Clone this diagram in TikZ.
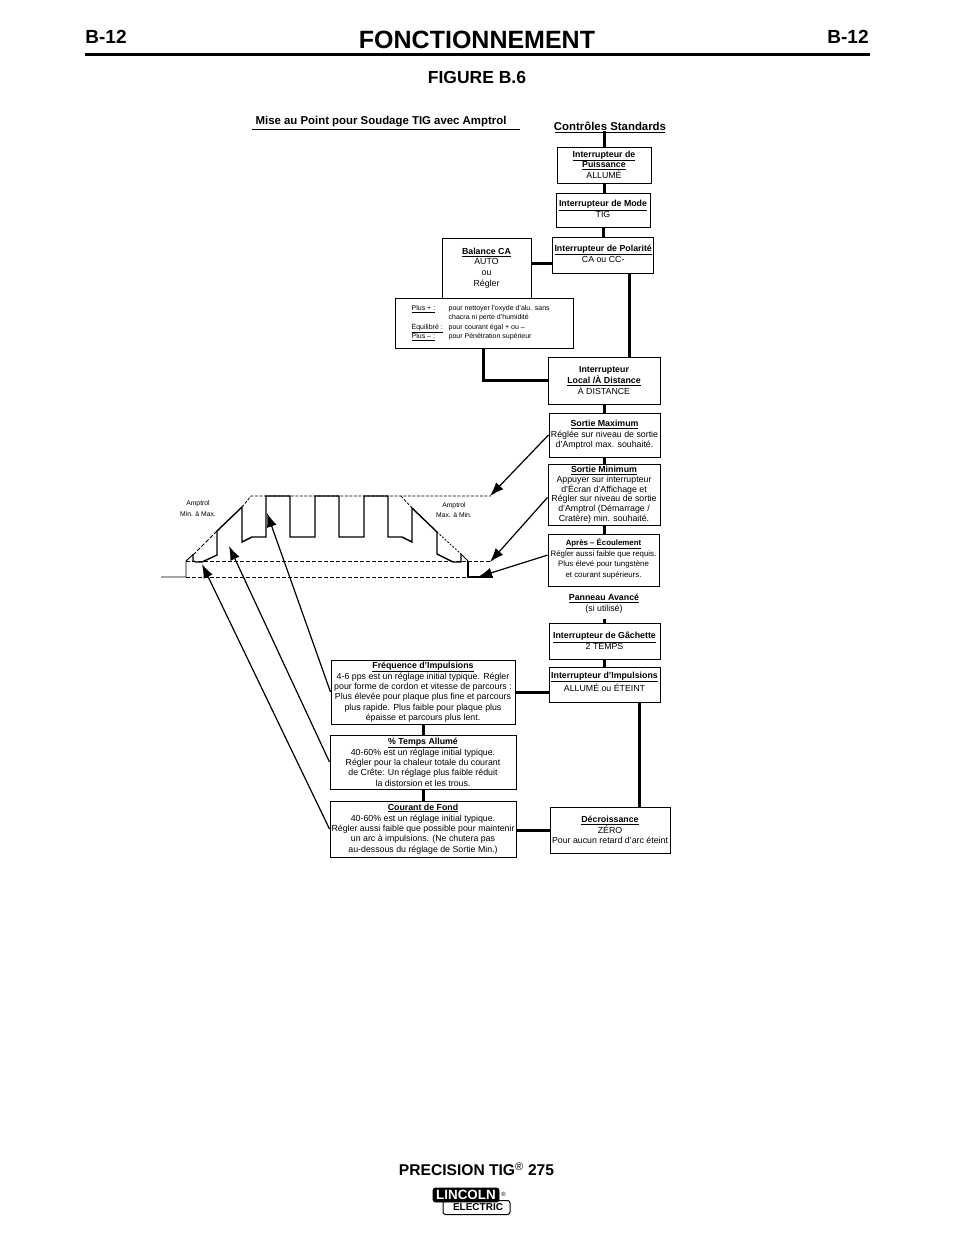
\documentclass[tikz,border=0pt]{standalone}
\usepackage{fontspec}
\setmainfont{Liberation Sans}
\usetikzlibrary{arrows.meta,positioning,calc}
\tikzset{every picture/.style={line width=0.75pt}}
\tikzset{
    boite/.style={draw, line width=1pt, align=center, inner sep=0pt, font=\fontsize{8.8}{10.4}\selectfont},
    lien/.style={line width=3pt},
    fleche/.style={line width=1.2pt, -{Latex[length=14pt,width=10pt]}},
    signal/.style={line width=1.4pt, line join=miter},
    fin/.style={line width=0.9pt},
    tirets/.style={line width=0.8pt, dash pattern=on 4pt off 2pt},
    titre/.style={font=\bfseries\fontsize{11.4}{13}\selectfont, inner sep=0pt},
    petit/.style={font=\fontsize{6.8}{10.6}\selectfont, align=center, inner sep=0pt}
}
\newcommand{\tete}[1]{\underline{\textbf{#1}}}

\begin{document}
\begin{tikzpicture}[x=1pt,y=-1pt]
    \useasboundingbox (0,0) rectangle (954,1235);

    % En-tete de page
    \node[font=\bfseries\fontsize{19}{22}\selectfont, inner sep=0pt] (pageg) at (106,37) {B-12};
    \node[font=\bfseries\fontsize{25}{30}\selectfont, inner sep=0pt] (fonct) at (477,40) {FONCTIONNEMENT};
    \node[font=\bfseries\fontsize{19}{22}\selectfont, inner sep=0pt] (paged) at (848,37) {B-12};
    \draw[line width=2.6pt] (85,54.5) -- (870,54.5);
    \node[font=\bfseries\fontsize{17.5}{20}\selectfont, inner sep=0pt] (figure) at (477,77) {FIGURE B.6};

    % Titres
    \node[titre] (miseau) at (381,122) {Mise au Point pour Soudage TIG avec Amptrol};
    \draw[line width=1pt] (252,129) -- (520,129);
    \node[titre] (controles) at (610,126.5) {Contrôles Standards};
    \draw[line width=1pt] (555,132) -- (665,132);

    % Colonne de droite
    \node[boite, minimum width=94pt, minimum height=36pt] (puissance) at (604,165)
        {\tete{Interrupteur de}\\\tete{Puissance}\\[0.6pt]ALLUMÉ};
    \node[boite, minimum width=94pt, minimum height=34pt] (mode) at (603,210)
        {\tete{Interrupteur de Mode}\\[0.6pt]TIG\\[-8.4pt]};
    \node[boite, minimum width=100.5pt, minimum height=36pt] (polarite) at (603.2,255)
        {\tete{Interrupteur de Polarité}\\[0.8pt]CA ou CC-\\[-7.4pt]};
    \node[boite, minimum width=89pt, minimum height=60pt] (balance) at (486.5,268)
        {\tete{Balance CA}\\[0.3pt]AUTO\\[0.3pt]ou\\[0.3pt]Régler};
    \node[boite, minimum width=178.5pt, minimum height=50pt, align=left,
          font=\fontsize{7}{9.4}\selectfont] (plus) at (484.7,323)
        {\makebox[37pt][l]{\underline{Plus + :}}pour nettoyer l’oxyde d’alu. sans\hspace*{8pt}\\
         \makebox[37pt][l]{}chacra ni perte d’humidité\\
         \makebox[37pt][l]{\underline{Équilibré :}}pour courant égal + ou –\\
         \makebox[37pt][l]{\underline{Plus – :}}pour Pénétration supérieur\\[-7.4pt]};
    \node[boite, minimum width=112pt, minimum height=47pt] (local) at (604,380.5)
        {\textbf{Interrupteur}\\\tete{Local /À Distance}\\[0.6pt]À DISTANCE};
    \node[boite, minimum width=111pt, minimum height=44pt] (sortiemax) at (604.5,435)
        {\tete{Sortie Maximum}\\[0.6pt]Réglée sur niveau de sortie\\d’Amptrol max. souhaité.};
    \node[boite, minimum width=112pt, minimum height=61pt, font=\fontsize{8.8}{9.7}\selectfont] (sortiemin) at (604,494.5)
        {\tete{Sortie Minimum}\\[0.6pt]Appuyer sur interrupteur\\d’Écran d’Affichage et\\Régler sur niveau de sortie\\d’Amptrol (Démarrage /\\Cratère) min. souhaité.};
    \node[boite, minimum width=111pt, minimum height=52pt, font=\fontsize{7.85}{10.6}\selectfont] (apres) at (603.5,560)
        {\tete{Après – Écoulement}\\Régler aussi faible que requis.\\Plus élevé pour tungstène\\et courant  supérieurs.\\[-6.6pt]};
    \node[boite, draw=none, minimum width=100pt, minimum height=29pt] (panneau) at (604,603.5)
        {\tete{Panneau Avancé}\\(si utilisé)};
    \node[boite, minimum width=111pt, minimum height=36pt] (gachette) at (604.5,641)
        {\tete{Interrupteur de Gâchette}\\[0.8pt]2 TEMPS};
    \node[boite, minimum width=111pt, minimum height=35pt] (impulsions) at (604.5,684.5)
        {\tete{Interrupteur d’Impulsions}\\[0.8pt]ALLUMÉ ou ÉTEINT\\[-4.4pt]};
    \node[boite, minimum width=120pt, minimum height=46pt] (decroissance) at (610,830)
        {\tete{Décroissance}\\[0.6pt]ZÉRO\\Pour aucun retard d’arc éteint};

    % Colonne de gauche
    \node[boite, minimum width=184pt, minimum height=64pt] (frequence) at (423,692)
        {\tete{Fréquence d’Impulsions}\\[0.6pt]4-6 pps est un réglage initial typique. Régler\\pour forme de cordon et vitesse de parcours :\\Plus élevée pour plaque plus fine et parcours\\plus rapide. Plus faible pour plaque plus\\épaisse et parcours plus lent.};
    \node[boite, minimum width=186pt, minimum height=54pt] (temps) at (423,762)
        {\tete{\% Temps Allumé}\\[0.6pt]40-60\% est un réglage initial typique.\\Régler pour la chaleur totale du courant\\de Crête: Un réglage plus faible réduit\\la distorsion et les trous.};
    \node[boite, minimum width=186pt, minimum height=56pt] (courant) at (423,829)
        {\tete{Courant de Fond}\\[0.6pt]40-60\% est un réglage initial typique.\\Régler aussi faible que possible pour maintenir\\un arc à impulsions. (Ne chutera pas\\au-dessous du réglage de Sortie Min.)};

    % Liens entre les boites
    \draw[lien] (puissance.north) -- (puissance.north |- controles.south);
    \draw[lien] (puissance.south) -- (puissance.south |- mode.north);
    \draw[lien] (mode.south) -- (mode.south |- polarite.north);
    \draw[lien] ([yshift=-8pt]polarite.west) -- ([yshift=-8pt]polarite.west -| balance.east);
    \draw[lien] ([xshift=26pt]polarite.south) -- ([xshift=26pt]polarite.south |- local.north);
    \draw[lien] ([xshift=-1.5pt]plus.south) |- (local.west);
    \draw[lien] (local.south) -- (local.south |- sortiemax.north);
    \draw[lien] (sortiemax.south) -- (sortiemax.south |- sortiemin.north);
    \draw[lien] (sortiemin.south) -- (sortiemin.south |- apres.north);
    \draw[lien] (gachette.north) -- (gachette.north |- panneau.south);
    \draw[lien] (gachette.south) -- (gachette.south |- impulsions.north);
    \draw[lien] (frequence.east) -- (frequence.east -| impulsions.west);
    \draw[lien] ([xshift=34.5pt]impulsions.south) -- ([xshift=34.5pt]impulsions.south |- decroissance.north);
    \draw[lien] (decroissance.west) -- (decroissance.west -| courant.east);
    \draw[lien] (frequence.south) -- (frequence.south |- temps.north);
    \draw[lien] (temps.south) -- (temps.south |- courant.north);

    % Forme d'onde
    \draw[fin] (161,577) -- (186,577) -- (186,561) -- (193,554.5);
    \draw[tirets] (186,577) -- (468,577);
    \draw[tirets] (186,561) -- (491,561);
    \draw[tirets] (193,555) -- (217,531);
    \draw[tirets, dash pattern=on 3pt off 1.5pt] (242,507) -- (251,496) -- (491,496);
    \draw[tirets, dash pattern=on 3pt off 1.5pt] (401,496) -- (412,508);
    \draw[tirets, dash pattern=on 2pt off 1.5pt] (437,532) -- (461,554);
    \draw[signal] (193,554.5) -- (193,561) -- (196,562) -- (202,562) -- (217,555) -- (217,531)
        -- (242,507) -- (242,542) -- (252,537) -- (266,537) -- (266,496) -- (290,496)
        -- (290,537) -- (315,537) -- (315,496) -- (339,496) -- (339,537) -- (364,537)
        -- (364,496) -- (388,496) -- (388,537) -- (402,537) -- (412,542) -- (412,508)
        -- (437,532) -- (437,554) -- (453,562) -- (461,562) -- (461,554);
    \draw[fin] (461,554) -- (468,561);
    \draw[signal] (468,561) -- (468,577) -- (493,577);
    \node[petit] (amptrolg) at (198,508.5) {Amptrol\\Min. à Max.};
    \node[petit] (amptrold) at (454,510) {Amptrol\\Max. à Min.};

    % Pointes des fleches
    \coordinate (cretemax) at (490,496);
    \coordinate (cretemin) at (490,562);
    \coordinate (postgaz) at (478,577);
    \coordinate (picfreq) at (267,513);
    \coordinate (pictemps) at (229,546);
    \coordinate (picfond) at (202,564);

    % Fleches
    \draw[fleche] (sortiemax.west) -- (cretemax);
    \draw[fleche] (sortiemin.183) -- (cretemin);
    \draw[fleche] (apres.175) -- (postgaz);
    \draw[fleche] (frequence.west) -- (picfreq);
    \draw[fleche] (temps.west) -- (pictemps);
    \draw[fleche] (courant.west) -- (picfond);

    % Pied de page
    \node[font=\bfseries\fontsize{15.6}{18}\selectfont, inner sep=0pt] (produit) at (476.5,1169)
        {PRECISION TIG\textsuperscript{\textmd{®}} 275};
    \node[draw, fill=white, rounded corners=2.5pt, line width=1pt, minimum width=67pt, minimum height=14pt,
          inner sep=0pt, font=\bfseries\fontsize{10}{10}\selectfont] (electric) at (476.5,1207.5)
        {\hspace*{3pt}ELECTRIC};
    \node[draw, fill=black, text=white, rounded corners=2.5pt, minimum width=66pt, minimum height=14pt,
          inner sep=0pt, font=\bfseries\fontsize{13.4}{14}\selectfont] (lincoln) at (466,1195) {LINCOLN};
    \node[inner sep=0pt, font=\fontsize{6}{7}\selectfont] (marque) at (503.5,1194) {®};
\end{tikzpicture}
\end{document}
